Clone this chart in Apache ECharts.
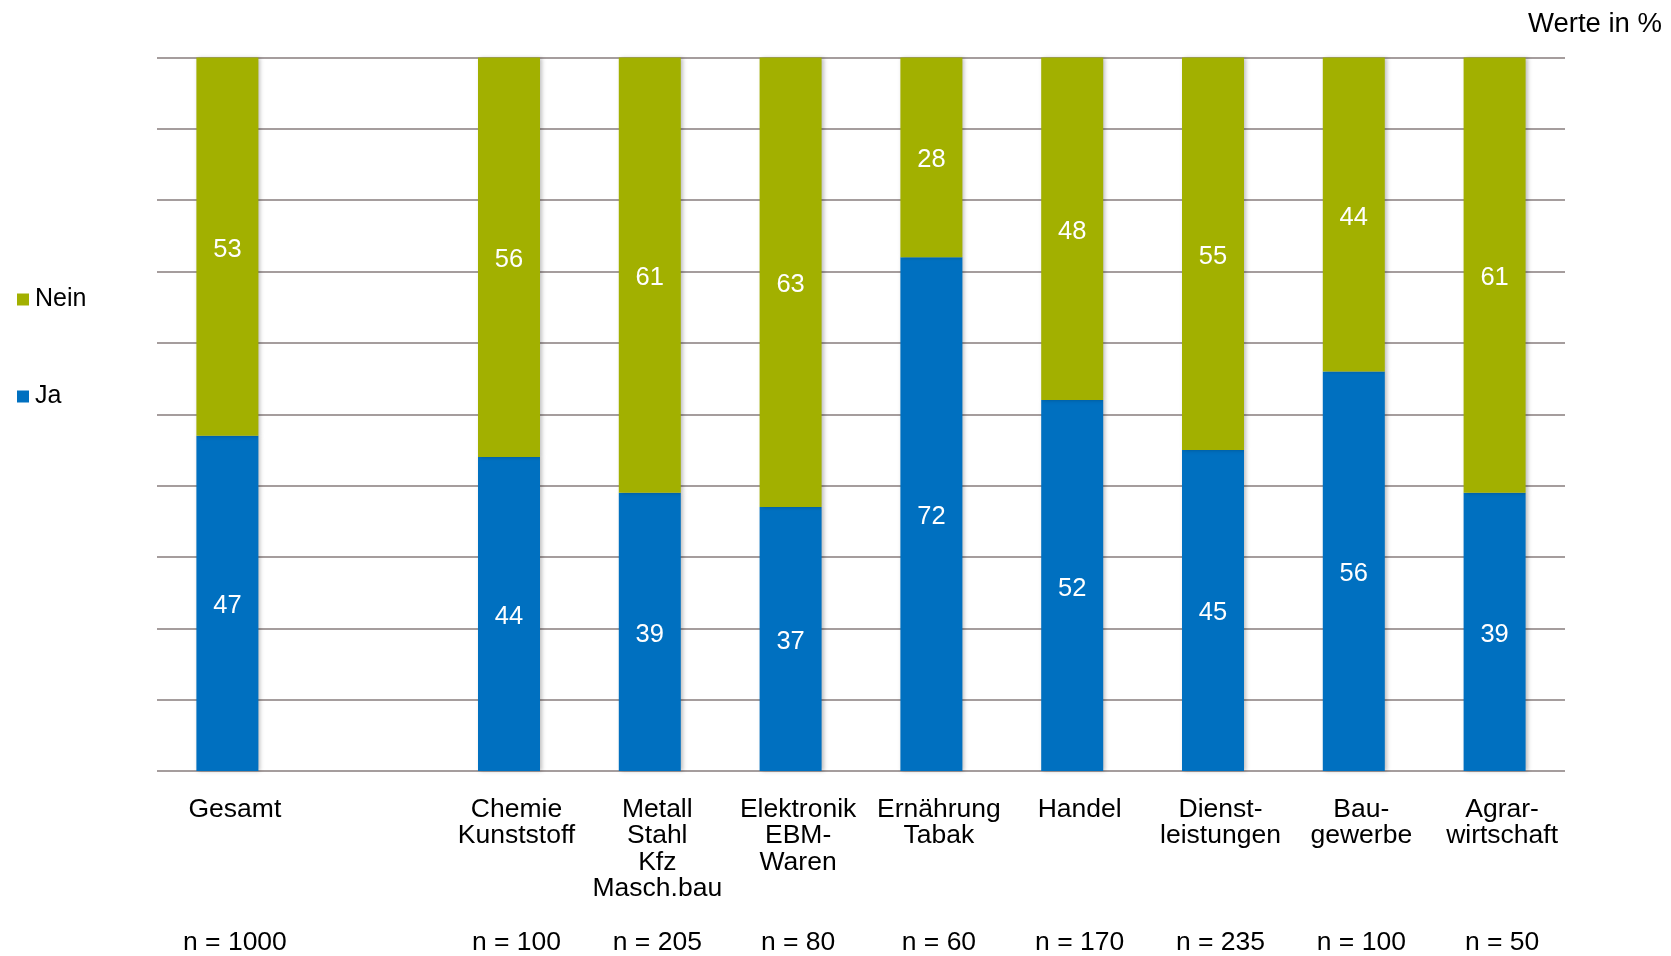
<!DOCTYPE html>
<html><head><meta charset="utf-8">
<script src="https://cdn.jsdelivr.net/npm/echarts@6/dist/echarts.min.js"></script>
<style>html,body{margin:0;padding:0;background:#fff}#c{width:1671px;height:956px}</style>
</head><body><div id="c"></div>
<script>
const categories = ['Gesamt', '', 'Chemie\nKunststoff', 'Metall\nStahl\nKfz\nMasch.bau', 'Elektronik\nEBM-\nWaren', 'Ernährung\nTabak', 'Handel', 'Dienst-\nleistungen', 'Bau-\ngewerbe', 'Agrar-\nwirtschaft'];
const nLabels = ['n = 1000', '', 'n = 100', 'n = 205', 'n = 80', 'n = 60', 'n = 170', 'n = 235', 'n = 100', 'n = 50'];
const jaValues = [47, null, 44, 39, 37, 72, 52, 45, 56, 39];
const neinValues = [53, null, 56, 61, 63, 28, 48, 55, 44, 61];

const FONT = '"Liberation Sans", Arial, sans-serif';
const chart = echarts.init(document.getElementById('c'), null, {renderer: 'canvas'});
const barShadow = {shadowColor: 'rgba(0,0,0,0.25)', shadowBlur: 4, shadowOffsetX: 2};
chart.setOption({
  animation: false,
  backgroundColor: '#fff',
  textStyle: {fontFamily: FONT},
  title: {
    text: 'Werte in %', right: 4, top: 5,
    textStyle: {fontFamily: FONT, fontSize: 27.5, fontWeight: 'normal', color: '#000'}
  },
  legend: {
    orient: 'vertical', left: 12, top: 282, itemGap: 72,
    itemWidth: 12, itemHeight: 12, icon: 'rect',
    data: ['Nein', 'Ja'],
    textStyle: {fontFamily: FONT, fontSize: 25, color: '#000', padding: [0, 0, 0, 1]}
  },
  grid: {left: 157, right: 106, top: 57.5, bottom: 184.4},
  xAxis: [{
    type: 'category', data: categories,
    axisLine: {show: false}, axisTick: {show: false},
    axisLabel: {interval: 0, fontFamily: FONT, fontSize: 26.5, color: '#000', lineHeight: 26.6, margin: 25, padding: [0, 0, 0, 15]}
  }, {
    type: 'category', data: nLabels, position: 'bottom',
    axisLine: {show: false}, axisTick: {show: false},
    axisLabel: {interval: 0, fontFamily: FONT, fontSize: 26.5, color: '#000', margin: 158, padding: [0, 0, 0, 15]}
  }],
  yAxis: {
    type: 'value', min: 0, max: 100, interval: 10,
    axisLabel: {show: false}, axisLine: {show: false}, axisTick: {show: false},
    splitLine: {show: true, lineStyle: {color: '#a59d9d', width: 2}}
  },
  series: [{
    name: 'Ja', type: 'bar', stack: 'a', data: jaValues, barWidth: 62,
    itemStyle: Object.assign({color: '#0070c0'}, barShadow),
    label: {show: true, position: 'inside', offset: [0, 3], color: '#fff', fontSize: 25.5, fontFamily: FONT}
  }, {
    name: 'Nein', type: 'bar', stack: 'a', data: neinValues, barWidth: 62,
    itemStyle: Object.assign({color: '#a2b000'}, barShadow),
    label: {show: true, position: 'inside', offset: [0, 3], color: '#fff', fontSize: 25.5, fontFamily: FONT}
  }]
});
</script></body></html>
